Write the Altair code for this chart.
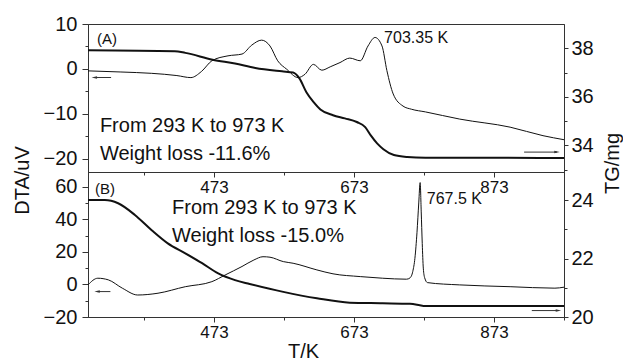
import altair as alt
import pandas as pd

FONT = "Liberation Sans"
INK = "#111111"
FRAME = "#333333"

# ---------------- Panel A data ----------------
A_DTA_T = [293, 340, 384, 420, 440, 455, 470, 493, 513, 527, 541, 553, 564, 577, 593, 603, 615,
           627, 639, 653, 667, 682, 693, 703, 713, 720, 729, 743, 755, 775, 824, 896, 943, 973]
A_DTA_V = [-0.45, -0.7, -1.0, -1.5, -1.95, -0.6, 1.8, 2.9, 3.3, 5.3, 6.4, 5.1, 1.8, -0.1, -1.95, -1.2, 1.0,
           -0.3, 0.45, 1.4, 2.4, 1.8, 5.1, 7.0, 5.1, -0.4, -5.6, -8.3, -9.0, -9.6, -11.2, -13.0, -14.9, -15.8]

A_TG_T = [293, 417, 432, 471, 503, 532, 570, 586, 595, 605, 615, 625, 643, 660, 677, 689, 697,
          706, 715, 730, 749, 775, 973]
A_TG_V = [37.92, 37.88, 37.81, 37.53, 37.37, 37.19, 37.05, 37.0, 36.76, 36.19, 35.79, 35.48, 35.24,
          35.11, 34.96, 34.75, 34.41, 34.08, 33.84, 33.6, 33.52, 33.49, 33.48]

# ---------------- Panel B data ----------------
B_DTA_T = [293, 307, 322, 342, 364, 393, 432, 470, 489, 513, 530, 543, 553, 572, 586, 620, 643, 682,
           714, 748, 753, 757, 760, 763, 765.5, 767.5, 769, 770.5, 772, 774, 778, 824, 896, 960, 973]
B_DTA_V = [-0.3, 3.8, 2.8, -2.3, -6.5, -5.4, -1.4, 1.7, 5.8, 11, 15, 17, 16.7, 14, 13, 8.9, 6.5, 4.8,
           3.8, 3.2, 4, 8, 16, 32, 50, 62.5, 45, 25, 10, 4, 1.1, -0.3, -1.4, -2.3, -1.7]

B_TG_T = [293, 317, 336, 360, 384, 407, 432, 456, 479, 503, 524, 572, 620, 667, 714, 753, 767, 772, 973]
B_TG_V = [24.0, 24.0, 23.89, 23.49, 22.97, 22.52, 22.18, 21.84, 21.49, 21.26, 21.13, 20.86, 20.64,
          20.49, 20.47, 20.45, 20.40, 20.38, 20.38]

# ---------------- annotations ----------------
A_TXT = ["(A)", "703.35 K", "From 293 K to 973 K", "Weight loss -11.6%"]
A_TXT_T = [306, 716, 310, 310]
A_TXT_Y = [6.6, 6.9, -12.7, -19.0]
A_TXT_FS = [15, 16, 20, 20]

B_TXT = ["(B)", "767.5 K", "From 293 K to 973 K", "Weight loss -15.0%"]
B_TXT_T = [303, 777, 413, 413]
B_TXT_Y = [58.8, 52.2, 46.6, 29.5]
B_TXT_FS = [15, 16, 20, 20]

# arrows: (start T, end T, value, head T)
A_ARR_DTA = [302, 326, -1.93, 302]
A_ARR_TG = [916, 963, 33.72, 963]
B_ARR_DTA = [306, 325, -4.4, 306]
B_ARR_TG = [927, 965, 20.22, 965]

X_DOMAIN = [293, 973]
X_TICKS = [373, 473, 573, 673, 773, 873, 973]

LEFT_HEAD = "M -1 0 L 1 -0.45 L 1 0.45 Z"
RIGHT_HEAD = "M 1 0 L -1 -0.45 L -1 0.45 Z"


def x_axis(bottom_panel):
    test = "(datum.value - 273) % 200 === 0"
    ax = dict(
        values=X_TICKS,
        labelExpr=f"{test} ? datum.label : ''",
        tickSize={"condition": {"test": test, "value": 5}, "value": 3},
        labelFontSize=17,
        labelPadding=2,
        labelFlush=False,
        grid=False,
    )
    if bottom_panel:
        ax.update(title="T/K", titleX=215, titleY=34, titleAlign="center",
                  titleBaseline="middle", titleFontSize=20, titleFontWeight="normal")
    else:
        ax.update(title="")
    return alt.Axis(**ax)


def y_axis(values, major, orient, title=None, title_x=None, title_y=None, big=6, small=3, pad=5):
    test = f"datum.value % {major} === 0"
    ax = dict(
        values=values,
        orient=orient,
        labelExpr=f"{test} ? datum.label : ''",
        tickSize={"condition": {"test": test, "value": big}, "value": small},
        labelFontSize=20,
        labelPadding=pad,
        labelFlush=False,
        grid=False,
    )
    if title:
        ax.update(title=title, titleX=title_x, titleY=title_y, titleAngle=270,
                  titleAlign="center", titleBaseline="middle", titleFontSize=20,
                  titleFontWeight="normal")
    else:
        ax.update(title="")
    return alt.Axis(**ax)


def panel(dta_t, dta_v, tg_t, tg_v, txt, txt_t, txt_y, txt_fs, arr_dta, arr_tg,
          dta_dom, dta_ticks, dta_major, tg_dom, tg_ticks, height, bottom,
          left_title=None, right_title=None):
    dta_df = pd.DataFrame({"T": dta_t, "v": dta_v})
    tg_df = pd.DataFrame({"T": tg_t, "v": tg_v})
    txt_df = pd.DataFrame({"T": txt_t, "v": txt_y, "label": txt, "fs": txt_fs})
    ad = pd.DataFrame({"T": [arr_dta[0]], "x2": [arr_dta[1]], "v": [arr_dta[2]], "hx": [arr_dta[3]]})
    at = pd.DataFrame({"T": [arr_tg[0]], "x2": [arr_tg[1]], "v": [arr_tg[2]], "hx": [arr_tg[3]]})

    xs = alt.Scale(domain=X_DOMAIN, nice=False, zero=False)
    xax = x_axis(bottom)
    dscale = alt.Scale(domain=dta_dom, nice=False, zero=False)
    tscale = alt.Scale(domain=tg_dom, nice=False, zero=False)
    left_ax = y_axis(dta_ticks, dta_major, "left", left_title, -65.5, 156, big=6, small=3, pad=5)
    right_ax = y_axis(tg_ticks, 2, "right", right_title, 48.5, 139, big=4, small=3, pad=3)

    def X(field="T"):
        return alt.X(f"{field}:Q", scale=xs, axis=xax)

    def YL():
        return alt.Y("v:Q", scale=dscale, axis=left_ax)

    def YR():
        return alt.Y("v:Q", scale=tscale, axis=right_ax)

    dta_line = alt.Chart(dta_df).mark_line(color=INK, strokeWidth=1, interpolate="monotone").encode(
        x=X(), y=YL())
    texts = alt.Chart(txt_df).mark_text(align="left", baseline="middle", font=FONT, color=INK).encode(
        x=X(), y=YL(), text="label:N", size=alt.Size("fs:Q", scale=None, legend=None))
    ad_rule = alt.Chart(ad).mark_rule(color=FRAME, strokeWidth=1).encode(x=X(), x2="x2:Q", y=YL())
    ad_head = alt.Chart(ad).mark_point(shape=LEFT_HEAD, filled=True, color=FRAME, size=30, opacity=1).encode(
        x=X("hx"), y=YL())
    left = alt.layer(dta_line, texts, ad_rule, ad_head)

    tg_line = alt.Chart(tg_df).mark_line(color=INK, strokeWidth=2, interpolate="monotone").encode(
        x=X(), y=YR())
    at_rule = alt.Chart(at).mark_rule(color=FRAME, strokeWidth=1).encode(x=X(), x2="x2:Q", y=YR())
    at_head = alt.Chart(at).mark_point(shape=RIGHT_HEAD, filled=True, color=FRAME, size=30, opacity=1).encode(
        x=X("hx"), y=YR())
    right = alt.layer(tg_line, at_rule, at_head)

    return alt.layer(left, right).resolve_scale(y="independent").properties(width=476, height=height)


pA = panel(A_DTA_T, A_DTA_V, A_TG_T, A_TG_V, A_TXT, A_TXT_T, A_TXT_Y, A_TXT_FS, A_ARR_DTA, A_ARR_TG,
           [-23, 10], [-20, -15, -10, -5, 0, 5, 10], 10, [32.9, 39], [33, 34, 35, 36, 37, 38], 148, False,
           left_title="DTA/uV", right_title="TG/mg")
pB = panel(B_DTA_T, B_DTA_V, B_TG_T, B_TG_V, B_TXT, B_TXT_T, B_TXT_Y, B_TXT_FS, B_ARR_DTA, B_ARR_TG,
           [-20, 69], [-20, -10, 0, 10, 20, 30, 40, 50, 60], 20, [20, 24.96], [20, 21, 22, 23, 24], 145, True)

chart = alt.vconcat(pA, pB, spacing=0, bounds="flush").properties(
    padding={"left": 12, "top": 13, "right": 0, "bottom": 0},
    background="white",
).configure_view(
    stroke=FRAME, strokeWidth=1
).configure_axis(
    labelFont=FONT, titleFont=FONT, labelColor=INK, titleColor=INK,
    domainColor=FRAME, tickColor=FRAME, domainWidth=1, tickWidth=1,
)

chart.save("out.html", embed_options={"renderer": "svg", "actions": False})
